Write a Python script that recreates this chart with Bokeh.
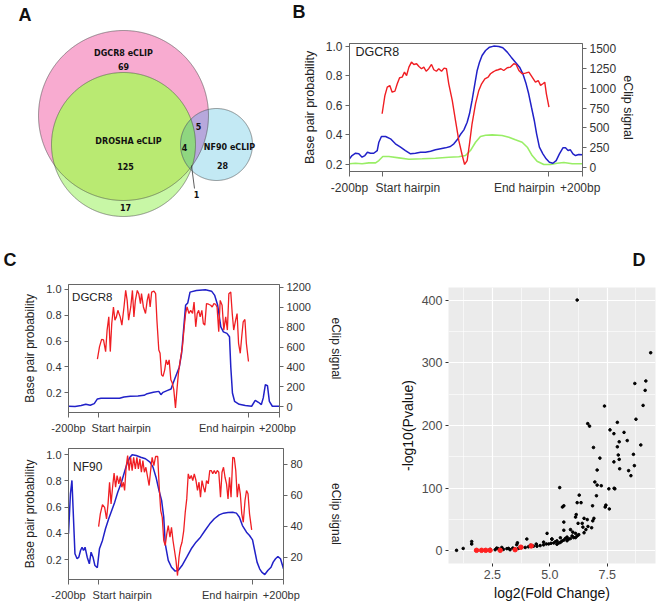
import numpy as np
from bokeh.plotting import figure
from bokeh.layouts import row, column
from bokeh.models import Range1d, LinearAxis, FixedTicker, PrintfTickFormatter, Plot
from bokeh.core.properties import value
from bokeh.embed import file_html
from bokeh.resources import INLINE

FONT = "Liberation Sans"
AXC = "#666666"
NOALIGN = {"frame_align": False} if "frame_align" in Plot.properties() else {}

# ---------------- Panel A: Venn counts ----------------
venn_set_names = ["DGCR8 eCLIP", "DROSHA eCLIP", "NF90 eCLIP"]
venn_region_names = ["DGCR8 only", "DGCR8&DROSHA", "DROSHA only", "DGCR8&NF90", "all three", "NF90 only", "DROSHA&NF90"]
venn_region_counts = [69, 125, 17, 5, 4, 28, 1]

# ---------------- position axis (shared by B and C) ----------------
pos_ticks = [0, 14, 85.5, 100]
pos_label_at = [0, 25, 75, 99]
pos_labels = ["-200bp", "Start hairpin", "End hairpin", "+200bp"]

# ---------------- Panel B (DGCR8) ----------------
b_red_x = [14.0, 15.2, 16.2, 17.3, 18.3, 19.5, 20.5, 21.5, 22.6, 23.6, 24.5, 25.5, 26.6, 27.6, 28.8, 29.8, 30.9, 31.9, 32.9, 34.0,
           35.2, 36.2, 37.3, 38.3, 39.5, 40.6, 41.6, 42.6, 44.1, 45.5, 46.9, 48.4, 49.4, 50.5, 51.5, 52.6, 54.1, 55.5, 56.7, 58.1,
           59.5, 60.5, 61.5, 62.7, 63.8, 65.0, 66.2, 67.7, 69.1, 70.5, 71.5, 72.7, 74.1, 75.5, 77.0, 78.4, 79.8, 81.0, 82.0, 83.0,
           83.8, 84.5, 85.6]
b_red_y = [0.544, 0.668, 0.724, 0.735, 0.690, 0.697, 0.747, 0.788, 0.792, 0.826, 0.803, 0.860, 0.894, 0.878, 0.883, 0.864, 0.849, 0.860, 0.832, 0.849,
           0.878, 0.842, 0.832, 0.849, 0.832, 0.853, 0.849, 0.747, 0.634, 0.498, 0.363, 0.261, 0.200, 0.227, 0.340, 0.476, 0.612, 0.702, 0.747, 0.781,
           0.792, 0.815, 0.826, 0.837, 0.842, 0.849, 0.837, 0.856, 0.860, 0.883, 0.878, 0.837, 0.815, 0.819, 0.826, 0.792, 0.758, 0.769, 0.736, 0.747,
           0.758, 0.679, 0.589]
b_blue_x = [0, 1.1, 2.6, 4.0, 5.4, 6.6, 7.7, 9.0, 10.4, 11.9, 12.6, 13.7, 15.5, 17.6, 19.7, 21.9, 24.0, 26.2, 28.3, 30.5,
            32.6, 34.8, 36.9, 39.1, 41.2, 43.3, 44.8, 46.2, 47.6, 49.1, 50.5, 51.5, 52.6, 53.8, 54.8, 55.8, 56.9, 58.4, 60.1, 61.9,
            64.1, 65.8, 67.7, 69.4, 71.2, 73.0, 74.4, 75.8, 76.9, 78.1, 79.3, 80.3, 81.5, 83.0, 84.4, 85.8, 87.3, 88.7, 90.1, 91.6,
            92.7, 93.8, 94.8, 95.9, 97.0, 98.4, 100]
b_blue_y = [110, 151, 180, 173, 130, 151, 193, 180, 180, 214, 319, 391, 391, 362, 299, 256, 214, 173, 180, 193,
            193, 206, 223, 236, 248, 265, 299, 349, 416, 475, 571, 677, 845, 1055, 1223, 1328, 1412, 1475, 1517, 1530,
            1526, 1509, 1454, 1391, 1328, 1265, 1181, 1055, 929, 760, 593, 425, 256, 173, 110, 67, 54, 88, 173, 248,
            248, 214, 223, 173, 151, 164, 160]
b_green_x = [0, 2.6, 5.4, 8.3, 11.2, 12.6, 14.3, 16.9, 21.2, 25.5, 31.2, 36.9, 42.6, 46.9, 49.8, 51.9, 54.1, 56.2, 58.4, 61.2,
             65.5, 68.4, 71.2, 74.1, 76.3, 78.4, 80.5, 83.4, 86.3, 89.1, 92.0, 95.6, 100]
b_green_y = [47, 54, 47, 59, 59, 88, 139, 139, 122, 105, 110, 117, 130, 135, 151, 214, 319, 391, 407, 412,
             404, 382, 349, 319, 256, 151, 80, 38, 38, 54, 63, 47, 47]

# ---------------- Panel C top (DGCR8) ----------------
c1_red_x = [13.7, 14.7, 15.7, 16.6, 17.6, 18.3, 19.1, 19.8, 20.5, 21.3, 22.0, 22.7, 23.4, 24.5, 25.3, 26.3, 27.1, 27.8, 28.5, 29.5,
            30.3, 31.0, 31.7, 32.6, 33.3, 34.1, 34.6, 35.5, 36.5, 37.3, 38.0, 38.7, 39.4, 40.5, 41.3, 41.9, 42.8, 43.4, 44.1, 44.8,
            45.6, 46.3, 47.0, 47.7, 48.5, 49.2, 49.9, 50.7, 51.4, 52.1, 53.0, 54.0, 54.7, 55.5, 56.2, 57.1, 57.9, 58.8, 59.5, 60.3,
            61.0, 61.7, 62.4, 63.2, 63.9, 64.6, 65.4, 66.4, 67.4, 68.1, 68.9, 69.7, 70.4, 71.2, 71.9, 72.8, 73.6, 74.5, 75.3, 76.0,
            76.9, 77.6, 78.3, 79.2, 79.9, 80.6, 81.4, 82.1, 82.8, 83.6, 84.3, 85.3]
c1_red_y = [0.459, 0.556, 0.613, 0.608, 0.518, 0.685, 0.787, 0.518, 0.736, 0.864, 0.762, 0.787, 0.838, 0.787, 0.723, 0.864, 0.992, 0.915, 0.762, 0.864,
            0.992, 0.787, 0.915, 0.992, 0.967, 0.890, 0.967, 0.864, 0.813, 0.915, 0.967, 0.864, 0.979, 0.987, 0.967, 0.762, 0.531, 0.505, 0.338, 0.326,
            0.377, 0.454, 0.415, 0.454, 0.300, 0.274, 0.223, 0.082, 0.223, 0.351, 0.454, 0.556, 0.685, 0.813, 0.864, 0.813, 0.838, 0.813, 0.902, 0.710,
            0.813, 0.838, 0.787, 0.838, 0.736, 0.723, 0.890, 0.885, 0.877, 0.864, 0.890, 0.885, 0.864, 0.672, 0.915, 0.877, 0.685, 0.787, 0.685, 0.967,
            0.979, 0.813, 0.685, 0.762, 0.813, 0.582, 0.505, 0.633, 0.749, 0.767, 0.582, 0.441]
c1_blue_x = [0, 3.1, 6.0, 8.2, 10.3, 12.2, 13.7, 15.4, 19.8, 24.2, 26.3, 29.3, 32.9, 35.8, 37.3, 40.2, 42.8, 43.8, 44.8, 46.7,
             48.6, 49.6, 51.1, 52.5, 53.6, 54.4, 55.5, 56.5, 57.6, 60.6, 64.9, 67.8, 69.3, 70.7, 72.2, 73.4, 75.1, 76.3, 76.9, 77.7,
             78.7, 80.9, 83.8, 86.8, 88.5, 90.0, 91.4, 92.3, 93.3, 94.3, 95.2, 96.6, 100]
c1_blue_y = [3, 0, 10, 23, 13, 30, 77, 83, 83, 83, 97, 103, 107, 113, 130, 143, 153, 120, 143, 160,
             177, 237, 320, 397, 537, 737, 1020, 1043, 1153, 1170, 1177, 1163, 1120, 1020, 803, 753, 737, 703, 403, 137,
             53, 23, 10, 3, 63, 43, 20, 87, 220, 210, 53, 3, 3]

# ---------------- Panel C bottom (NF90) ----------------
c2_red_x = [14.0, 14.8, 15.8, 16.8, 17.7, 18.4, 19.1, 19.8, 20.5, 21.2, 21.9, 22.6, 23.4, 24.1, 24.8, 25.5, 26.1, 26.8, 27.5, 28.2,
            28.9, 29.6, 30.3, 31.1, 31.8, 32.5, 33.2, 33.9, 34.6, 35.3, 36.0, 36.8, 37.5, 38.2, 38.9, 39.7, 40.5, 41.5, 42.2, 42.9,
            43.6, 44.3, 45.0, 45.7, 46.4, 47.2, 47.9, 48.6, 49.3, 50.0, 50.7, 51.4, 52.1, 52.8, 53.6, 54.3, 55.0, 55.7, 56.4, 57.1,
            57.8, 58.5, 59.3, 60.0, 60.7, 61.4, 62.1, 62.8, 63.5, 64.2, 65.0, 65.7, 66.4, 67.1, 67.8, 68.5, 69.2, 69.9, 70.7, 71.4,
            72.1, 72.8, 73.5, 74.2, 74.9, 75.6, 76.4, 77.1, 77.8, 78.5, 79.2, 79.9, 80.6, 81.3, 82.1, 82.8, 83.5, 84.2, 85.2]
c2_red_y = [0.451, 0.548, 0.619, 0.598, 0.510, 0.624, 0.789, 0.624, 0.751, 0.858, 0.751, 0.840, 0.777, 0.832, 0.751, 0.789, 0.726, 0.903, 0.992, 0.878,
            0.979, 0.878, 0.979, 0.891, 0.979, 0.891, 0.967, 0.865, 0.954, 0.865, 0.903, 0.827, 0.764, 0.878, 0.979, 0.916, 0.985, 0.985, 0.751, 0.573,
            0.522, 0.345, 0.307, 0.396, 0.459, 0.370, 0.446, 0.345, 0.269, 0.192, 0.078, 0.218, 0.294, 0.332, 0.421, 0.560, 0.662, 0.853, 0.815, 0.840,
            0.802, 0.853, 0.802, 0.726, 0.789, 0.675, 0.802, 0.751, 0.713, 0.802, 0.777, 0.878, 0.878, 0.853, 0.878, 0.853, 0.878, 0.865, 0.675, 0.865,
            0.903, 0.827, 0.777, 0.662, 0.827, 0.675, 0.979, 0.975, 0.878, 0.675, 0.777, 0.701, 0.548, 0.484, 0.650, 0.726, 0.701, 0.548, 0.426]
c2_blue_x = [0, 0.9, 1.6, 2.3, 3.0, 4.0, 4.8, 5.6, 6.3, 7.0, 7.7, 8.7, 9.7, 10.5, 11.4, 12.3, 13.4, 14.4, 15.8, 17.2,
             18.7, 20.1, 21.5, 22.9, 24.4, 25.8, 27.2, 28.6, 29.6, 31.5, 33.6, 35.8, 37.9, 39.3, 40.7, 42.1, 43.3, 44.3, 45.0, 46.4,
             47.9, 49.6, 51.0, 52.8, 55.0, 57.1, 59.3, 61.4, 63.5, 65.7, 67.8, 70.1, 72.1, 74.2, 76.4, 78.1, 79.5, 80.9, 82.8, 84.2,
             85.6, 86.6, 87.7, 88.9, 89.9, 91.3, 92.7, 94.2, 95.2, 96.3, 97.4, 98.6, 100]
c2_blue_y = [35.3, 61.1, 69.7, 46.0, 22.4, 19.2, 20.2, 24.5, 26.6, 24.5, 26.6, 20.2, 15.9, 23.4, 20.2, 14.8, 13.4, 25.6, 31.0, 38.5,
             45.0, 50.3, 55.7, 62.1, 67.5, 74.0, 80.5, 84.7, 86.3, 85.8, 84.7, 83.7, 81.5, 78.3, 71.8, 63.2, 56.8, 46.0, 28.8, 18.1,
             13.7, 11.2, 11.6, 14.8, 20.2, 25.6, 29.9, 33.1, 37.4, 41.7, 45.0, 47.5, 48.6, 49.0, 49.2, 48.6, 46.0, 40.6, 36.3, 34.2,
             31.4, 24.5, 17.0, 12.7, 10.5, 9.0, 11.6, 13.7, 17.0, 19.2, 20.6, 19.2, 12.7]

# ---------------- Panel D (scatter) ----------------
d_fc = [6.19, 9.39, 8.70, 9.18, 9.15, 9.06, 8.75, 7.38, 6.65, 6.73, 7.94, 7.62, 7.79, 8.23, 8.37, 8.02, 7.94, 8.96, 6.90, 7.18,
        7.98, 8.02, 7.79, 8.64, 8.68, 8.43, 8.53, 8.04, 7.06, 6.96, 7.06, 7.24, 7.57, 7.80, 7.83, 5.43, 6.28, 7.03, 7.44, 7.41,
        7.59, 6.86, 6.19, 6.36, 5.55, 5.61, 6.15, 6.12, 6.49, 6.63, 6.92, 6.87, 6.41, 6.23, 6.66, 6.82, 6.57, 6.44, 5.61, 5.61,
        5.90, 6.00, 6.12, 6.26, 6.49, 4.88, 5.46, 5.68, 5.75, 5.31, 5.09, 4.73, 4.41, 4.15, 4.00, 3.59, 3.56, 1.60, 1.60, 1.23,
        0.94, 2.40, 2.62, 2.76, 2.98, 3.13, 3.27, 3.39, 3.49, 3.64, 3.78, 3.93, 4.07, 4.29, 4.44, 4.58, 4.73, 4.85, 4.95, 5.05,
        5.17, 5.24, 5.31, 5.39, 5.46, 5.53, 5.61, 5.75, 5.82, 5.90, 5.97, 6.04, 6.12, 6.19, 2.69, 2.91, 3.20, 5.09]
d_logp = [400, 316, 267, 271, 256, 232, 210, 231, 203, 199, 205, 193, 187, 189, 176, 174, 166, 169, 165, 148,
          153, 146, 142, 154, 136, 128, 120, 131, 129, 110, 105, 104, 99, 100, 99, 101, 89, 88, 73, 70,
          67, 72, 77, 77, 70, 72, 58, 54, 52, 50, 52, 48, 44, 44, 39, 37, 34, 38, 46, 33,
          34, 30, 28, 26, 29, 28, 21, 20, 22, 16, 19, 14, 11, 9, 19, 13, 10, 15, 11, 4,
          1, 2.5, 2, 3.6, 2.5, 3.6, 2, 4.6, 3, 4.1, 5.6, 5.6, 6.6, 7.6, 7.6, 8.6, 9.7, 11.2, 11.2, 12.2,
          12.7, 14.7, 10.7, 12.7, 13.7, 15.8, 17.3, 16.3, 18.8, 19.8, 23.9, 21.3, 21.3, 23.9, 4.6, 5.6, 4.1, 18.8]
d_red_fc = [1.81, 2.03, 2.21, 2.40, 2.84, 3.49, 3.74, 4.19]
d_red_logp = [1, 1, 1, 1, 1, 2, 6, 8]

panel_letters = ["A", "B", "C", "D"]


# ======================= helpers =======================
def style_axis(ax, tick_size, label_size):
    ax.major_label_text_font = FONT
    ax.major_label_text_font_size = tick_size
    ax.major_label_text_color = "#333333"
    ax.axis_label_text_font = FONT
    ax.axis_label_text_font_size = label_size
    ax.axis_label_text_font_style = "normal"
    ax.axis_label_text_color = "#222222"
    ax.axis_line_color = AXC
    ax.major_tick_line_color = AXC
    ax.minor_tick_line_color = None
    ax.major_tick_in = 0
    ax.major_tick_out = 4
    ax.major_label_standoff = 3


def blank_fig(width, height):
    p = figure(width=width, height=height, x_range=Range1d(0, width), y_range=Range1d(height, 0),
               x_axis_type=None, y_axis_type=None, toolbar_location=None, output_backend="svg",
               min_border=0, **NOALIGN)
    p.grid.visible = False
    p.outline_line_color = None
    return p


def letter(p, text, x, y):
    p.text(x=[x], y=[y], text=[text], text_font=value(FONT), text_font_style="bold",
           text_font_size="18px", text_baseline="top", text_align="left", text_color="#111111")


def profile_fig(width, height, borders, y_range, sig_range, sig_ticks, right_standoff, tick_size, label_size):
    left, right, top, bottom = borders
    p = figure(width=width, height=height, x_range=Range1d(0, 100), y_range=Range1d(*y_range),
               toolbar_location=None, output_backend="svg",
               min_border_left=left, min_border_right=right, min_border_top=top, min_border_bottom=bottom,
               **NOALIGN)
    p.extra_y_ranges = {"sig": Range1d(*sig_range)}
    p.grid.visible = False
    p.outline_line_color = AXC
    ax = p.xaxis[0]
    style_axis(ax, tick_size, label_size)
    ax.ticker = FixedTicker(ticks=pos_label_at, minor_ticks=pos_ticks)
    ax.major_label_overrides = {t: l for t, l in zip(pos_label_at, pos_labels)}
    ax.major_tick_line_color = None
    ax.major_tick_out = 0
    ax.minor_tick_line_color = AXC
    ax.minor_tick_out = 5
    ax.minor_tick_in = 0
    ax.major_label_standoff = 4
    ly = p.yaxis[0]
    style_axis(ly, tick_size, label_size)
    ly.ticker = FixedTicker(ticks=[0.2, 0.4, 0.6, 0.8, 1.0])
    ly.formatter = PrintfTickFormatter(format="%.1f")
    ly.axis_label = "Base pair probability"
    ly.axis_label_standoff = 6
    ry = LinearAxis(y_range_name="sig", ticker=FixedTicker(ticks=sig_ticks), axis_label="eClip signal")
    style_axis(ry, tick_size, label_size)
    ry.axis_label_standoff = right_standoff
    p.add_layout(ry, "right")
    return p


RED = "#f01e23"
BLUE = "#2121c8"
GREEN = "#99ee66"

# ======================= Panel A =======================
pa = blank_fig(290, 245)

# circle geometry in panel pixels (layout only)
circ = {"DGCR8": (123, 115, 85), "DROSHA": (123, 144, 72), "NF90": (216, 144, 36)}


def disk_intersection(names, n=1440):
    t = np.linspace(0, 2 * np.pi, n, endpoint=False)
    pts = []
    for nm in names:
        cx, cy, r = circ[nm]
        px, py = cx + r * np.cos(t), cy + r * np.sin(t)
        keep = np.ones(n, dtype=bool)
        for other in names:
            if other == nm:
                continue
            ox, oy, orad = circ[other]
            keep &= np.hypot(px - ox, py - oy) <= orad + 1e-9
        pts.append(np.c_[px[keep], py[keep]])
    pts = np.vstack(pts)
    mx, my = pts.mean(axis=0)
    order = np.argsort(np.arctan2(pts[:, 1] - my, pts[:, 0] - mx))
    return list(pts[order, 0]), list(pts[order, 1])


region_fills = [
    (["DGCR8"], "#f8abd0"),
    (["DROSHA"], "#c8f7a6"),
    (["DGCR8", "DROSHA"], "#b9ea72"),
    (["NF90"], "#c3e9f4"),
    (["DGCR8", "NF90"], "#b7a8dc"),
    (["DROSHA", "NF90"], "#9edc9c"),
    (["DGCR8", "DROSHA", "NF90"], "#8fd680"),
]
for names, col in region_fills:
    xs, ys = disk_intersection(names)
    pa.patch(xs, ys, fill_color=col, line_color=None)
for nm in ["DGCR8", "DROSHA", "NF90"]:
    xs, ys = disk_intersection([nm])
    pa.patch(xs + [xs[0]], ys + [ys[0]], fill_color=None, line_color="#444444", line_alpha=0.7, line_width=0.8)

venn_text_x = [123, 125, 125, 198, 184, 222, 196]
venn_text_y = [66, 166, 207, 126, 147, 165, 194]
pa.text(x=venn_text_x, y=venn_text_y, text=[str(c) for c in venn_region_counts],
        text_font=value("DejaVu Sans"), text_font_style="bold", text_font_size="8px",
        text_align="center", text_baseline="middle", text_color="#111111")
pa.text(x=[123, 128, 229], y=[53, 141, 147], text=venn_set_names,
        text_font=value("DejaVu Sans"), text_font_style="bold", text_font_size="8px",
        text_align="center", text_baseline="middle", text_color="#111111")
pa.line(x=[191, 194], y=[165, 188], line_color="#333333", line_width=0.8)
letter(pa, panel_letters[0], 18, 4)

# ======================= Panel B =======================
hb = blank_fig(373, 20)
letter(hb, panel_letters[1], 2, 1)
pb = profile_fig(373, 225, (59, 81, 23, 74), (0.1525, 1.02), (-50, 1563),
                 [0, 250, 500, 750, 1000, 1250, 1500], 2, "12px", "12.5px")
pb.line(b_green_x, b_green_y, y_range_name="sig", line_color=GREEN, line_width=1.6)
pb.line(b_blue_x, b_blue_y, y_range_name="sig", line_color=BLUE, line_width=1.5)
pb.line(b_red_x, b_red_y, line_color=RED, line_width=1.4)
pb.text(x=[2.6], y=[1.012], text=["DGCR8"], text_font=value(FONT), text_font_size="12.5px",
        text_baseline="top", text_color="#222222")

# ======================= Row 2 header (C, D letters) =======================
h2 = blank_fig(663, 30)
letter(h2, panel_letters[2], 3, 4)
letter(h2, panel_letters[3], 632, 4)

# ======================= Panel C top =======================
pc1 = profile_fig(345, 161, (68, 48, 9, 23), (0.046, 1.038), (-60, 1230),
                  [0, 200, 400, 600, 800, 1000, 1200], 15, "11px", "12px")
pc1.line(c1_blue_x, c1_blue_y, y_range_name="sig", line_color=BLUE, line_width=1.5)
pc1.line(c1_red_x, c1_red_y, line_color=RED, line_width=1.3)
pc1.text(x=[1.7], y=[0.985], text=["DGCR8"], text_font=value(FONT), text_font_size="11.5px",
         text_baseline="top", text_color="#222222")

# ======================= Panel C bottom =======================
pc2 = profile_fig(345, 167, (68, 43, 12, 24), (0.048, 1.046), (5.8, 90.3),
                  [20, 40, 60, 80], 23, "11px", "12px")
pc2.line(c2_blue_x, c2_blue_y, y_range_name="sig", line_color=BLUE, line_width=1.5)
pc2.line(c2_red_x, c2_red_y, line_color=RED, line_width=1.3)
pc2.text(x=[2.1], y=[0.962], text=["NF90"], text_font=value(FONT), text_font_size="12px",
         text_baseline="top", text_color="#222222")

# ======================= Panel D =======================
pd = figure(width=318, height=328, x_range=Range1d(0.59, 9.6), y_range=Range1d(-20, 420),
            toolbar_location=None, output_backend="svg",
            min_border_left=103, min_border_right=8, min_border_top=12, min_border_bottom=36, **NOALIGN)
pd.background_fill_color = "#ebebeb"
pd.outline_line_color = None
pd.xaxis.ticker = FixedTicker(ticks=[2.5, 5.0, 7.5], minor_ticks=[1.25, 3.75, 6.25, 8.75])
pd.yaxis.ticker = FixedTicker(ticks=[0, 100, 200, 300, 400], minor_ticks=[50, 150, 250, 350])
pd.xaxis.formatter = PrintfTickFormatter(format="%.1f")
for g in (pd.xgrid, pd.ygrid):
    g.grid_line_color = "white"
    g.grid_line_width = 1.2
    g.minor_grid_line_color = "white"
    g.minor_grid_line_width = 0.6
for ax in (pd.xaxis[0], pd.yaxis[0]):
    ax.axis_line_color = None
    ax.major_tick_line_color = "#333333"
    ax.major_tick_in = 0
    ax.major_tick_out = 3
    ax.minor_tick_line_color = None
    ax.major_label_text_font = FONT
    ax.major_label_text_font_size = "12.5px"
    ax.major_label_text_color = "#4d4d4d"
    ax.major_label_standoff = 2
    ax.axis_label_text_font = FONT
    ax.axis_label_text_font_size = "14px"
    ax.axis_label_text_font_style = "normal"
    ax.axis_label_text_color = "#111111"
    ax.axis_label_standoff = 3
pd.xaxis.axis_label = "log2(Fold Change)"
pd.yaxis.axis_label = "-log10(Pvalue)"
pd.scatter(d_fc, d_logp, size=2.6, color="black")
pd.scatter(d_red_fc, d_red_logp, size=4.5, color="#ff2020")

layout = column(row(pa, column(hb, pb)), column(h2, row(column(pc1, pc2), pd)))
open("out.html", "w").write(file_html(layout, INLINE))
